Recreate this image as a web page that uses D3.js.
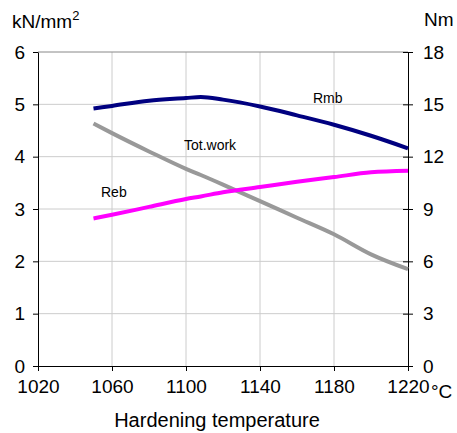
<!DOCTYPE html>
<html>
<head>
<meta charset="utf-8">
<script src="https://cdn.jsdelivr.net/npm/d3@7"></script>
<style>
  body { margin: 0; background: #fff; }
  text { font-family: Arial, "Liberation Sans", sans-serif; fill: #000; }
</style>
</head>
<body>
<div id="elements"></div>
<script>
// temperatures (deg C) where the curves were read
var temps = [1050, 1060, 1080, 1100, 1108, 1120, 1140, 1160, 1180, 1200, 1220];
// left axis, kN/mm2
var rmb = [4.92, 4.97, 5.07, 5.12, 5.14, 5.09, 4.96, 4.79, 4.61, 4.40, 4.16];
var reb = [2.82, 2.89, 3.04, 3.19, 3.24, 3.32, 3.42, 3.52, 3.61, 3.70, 3.73];
// right axis, Nm
var totWork = [13.9, 13.35, 12.3, 11.3, 10.95, 10.4, 9.45, 8.5, 7.55, 6.4, 5.55];

var xTicks = [1020, 1060, 1100, 1140, 1180, 1220];
var leftTicks = [0, 1, 2, 3, 4, 5, 6];
var rightTicks = [0, 3, 6, 9, 12, 15, 18];

var margin = {top: 52, right: 49, bottom: 67, left: 38},
    width = 457,
    height = 433,
    innerW = width - margin.left - margin.right,
    innerH = height - margin.top - margin.bottom;

var svg = d3.select("#elements").append("svg")
    .attr("width", width)
    .attr("height", height);

var g = svg.append("g").attr("transform", "translate(" + margin.left + "," + margin.top + ")");

var x = d3.scaleLinear().domain([1020, 1220]).range([0, innerW]);
var yL = d3.scaleLinear().domain([0, 6]).range([innerH, 0]);
var yR = d3.scaleLinear().domain([0, 18]).range([innerH, 0]);

// grid
g.append("g")
    .selectAll("line")
    .data(leftTicks.slice(1, -1))
    .enter().append("line")
      .attr("x1", 0).attr("x2", innerW)
      .attr("y1", function(d) { return yL(d); })
      .attr("y2", function(d) { return yL(d); })
      .attr("stroke", "#cccccc");

g.append("g")
    .selectAll("line")
    .data(xTicks.slice(1, -1))
    .enter().append("line")
      .attr("x1", function(d) { return x(d); })
      .attr("x2", function(d) { return x(d); })
      .attr("y1", 0).attr("y2", innerH)
      .attr("stroke", "#cccccc");

// top border
g.append("line")
    .attr("x1", 0).attr("x2", innerW)
    .attr("y1", 0).attr("y2", 0)
    .attr("stroke", "#888888");

// axes
var fontSize = "19px";
var fontFam = "Arial, 'Liberation Sans', sans-serif";

var xAxis = g.append("g")
    .attr("transform", "translate(0," + innerH + ")")
    .call(d3.axisBottom(x).tickValues(xTicks).tickSize(5).tickSizeOuter(0).tickFormat(d3.format("d")));
xAxis.selectAll("text").attr("y", 14).attr("font-size", fontSize).attr("font-family", fontFam);

var leftAxis = g.append("g")
    .call(d3.axisLeft(yL).tickValues(leftTicks).tickSize(5).tickSizeOuter(0).tickFormat(d3.format("d")));
leftAxis.selectAll("text").attr("x", -13).attr("font-size", fontSize).attr("font-family", fontFam);

var rightAxis = g.append("g")
    .attr("transform", "translate(" + innerW + ",0)")
    .call(d3.axisRight(yR).tickValues(rightTicks).tickSize(5).tickSizeOuter(0).tickFormat(d3.format("d")));
rightAxis.selectAll("line").attr("x1", -5);
rightAxis.selectAll("text").attr("x", 15).attr("font-size", fontSize).attr("font-family", fontFam);

g.selectAll(".domain").attr("stroke", "#000");
g.selectAll(".tick line").attr("stroke", "#000");

// lines
var lineL = d3.line()
    .x(function(d, i) { return x(temps[i]); })
    .y(function(d) { return yL(d); })
    .curve(d3.curveMonotoneX);

var lineR = d3.line()
    .x(function(d, i) { return x(temps[i]); })
    .y(function(d) { return yR(d); })
    .curve(d3.curveMonotoneX);

g.append("path")
    .datum(totWork)
    .attr("fill", "none")
    .attr("stroke", "#999999")
    .attr("stroke-width", 4)
    .attr("d", lineR);

g.append("path")
    .datum(reb)
    .attr("fill", "none")
    .attr("stroke", "#ff00ff")
    .attr("stroke-width", 4)
    .attr("d", lineL);

g.append("path")
    .datum(rmb)
    .attr("fill", "none")
    .attr("stroke", "#000080")
    .attr("stroke-width", 4)
    .attr("d", lineL);

// series labels
svg.append("text").attr("x", 313).attr("y", 103).attr("font-size", "14px").text("Rmb");
svg.append("text").attr("x", 184).attr("y", 150).attr("font-size", "14px").text("Tot.work");
svg.append("text").attr("x", 101).attr("y", 197).attr("font-size", "14px").text("Reb");

// units and title
var unit = svg.append("text").attr("x", 12).attr("y", 28).attr("font-size", fontSize);
unit.append("tspan").text("kN/mm");
unit.append("tspan").attr("font-size", "13px").attr("dy", -8).text("2");

svg.append("text").attr("x", 424).attr("y", 26).attr("font-size", fontSize).text("Nm");
svg.append("text").attr("x", 431).attr("y", 398).attr("font-size", fontSize).text("\u00b0C");

svg.append("text")
    .attr("x", 217)
    .attr("y", 427)
    .attr("text-anchor", "middle")
    .attr("font-size", "20px")
    .text("Hardening temperature");
</script>
</body>
</html>
